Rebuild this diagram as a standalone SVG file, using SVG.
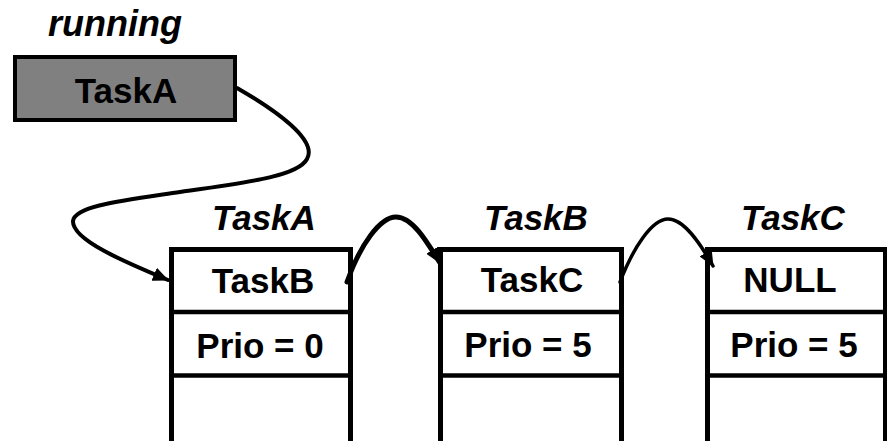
<svg xmlns="http://www.w3.org/2000/svg" width="887" height="441" viewBox="0 0 887 441">
<defs>
<style>
.t{font-family:"Liberation Sans",Arial,sans-serif;font-weight:bold;font-size:35px;fill:#000;text-anchor:middle}
.i{font-style:italic}
.box{fill:#fff;stroke:#000;stroke-width:5}
.div{stroke:#000;stroke-width:4.5}
.c{fill:none;stroke:#000;stroke-linecap:round}
</style>
<marker id="ah" markerUnits="userSpaceOnUse" viewBox="0 0 16 14" markerWidth="16" markerHeight="14" refX="15" refY="7" orient="auto">
<path d="M0,0 L16,7 L0,14 Z" fill="#000"/>
</marker>
</defs>
<rect width="887" height="441" fill="#fff"/>
<g id="running">
<text class="t i" x="115" y="36" style="font-size:36px">running</text>
<rect x="15" y="57" width="220" height="63" fill="#808080" stroke="#000" stroke-width="4"/>
<text class="t" x="126" y="103">TaskA</text>
</g>
<g id="taskA">
<text class="t i" x="264" y="230">TaskA</text>
<rect class="box" x="171.5" y="249.5" width="179" height="200"/>
<line class="div" x1="171.5" y1="312" x2="350.5" y2="312"/>
<line class="div" x1="171.5" y1="375.5" x2="350.5" y2="375.5"/>
<text class="t" x="263" y="293">TaskB</text>
<text class="t" x="260" y="358">Prio = 0</text>
</g>
<g id="taskB">
<text class="t i" x="536" y="230">TaskB</text>
<rect class="box" x="440.5" y="249.5" width="181" height="200"/>
<line class="div" x1="440.5" y1="312" x2="621.5" y2="312"/>
<line class="div" x1="440.5" y1="375.5" x2="621.5" y2="375.5"/>
<text class="t" x="532" y="292">TaskC</text>
<text class="t" x="528" y="357">Prio = 5</text>
</g>
<g id="taskC">
<text class="t i" x="793" y="230">TaskC</text>
<rect class="box" x="707.5" y="249.5" width="178" height="200"/>
<line class="div" x1="707.5" y1="312" x2="885.5" y2="312"/>
<line class="div" x1="707.5" y1="375.5" x2="885.5" y2="375.5"/>
<text class="t" x="790" y="292">NULL</text>
<text class="t" x="794" y="357">Prio = 5</text>
</g>
<g id="connectors">
<path class="c" stroke-width="4" marker-end="url(#ah)" d="M237,88 C275,110 318,140 307,159 C298,176 250,182 180,192 C120,201 75,206 73,221 C72,240 125,262 168,280"/>
<path class="c" stroke-width="5" marker-end="url(#ah)" d="M347,282 C360,245 380,217 396,217 C412,217 426,240 440,263"/>
<path class="c" stroke-width="3.5" marker-end="url(#ah)" d="M620,282 C633,248 652,219 668,219 C684,219 700,243 713,266"/>
</g>
</svg>
